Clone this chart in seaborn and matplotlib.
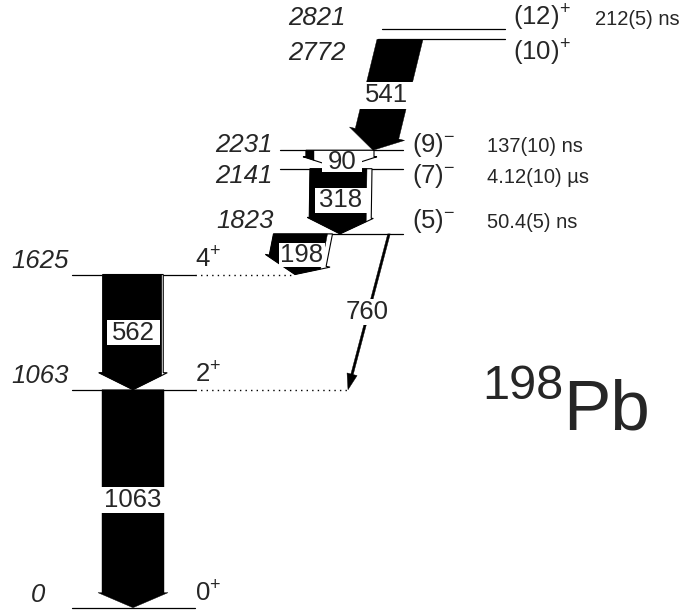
import matplotlib
matplotlib.use("Agg")
import matplotlib.pyplot as plt
from matplotlib.patches import Rectangle
import numpy as np
import pandas as pd
import seaborn as sns

# niveles (keV), espines y vidas medias
level_E = [0, 1063, 1625, 1823, 2141, 2231, 2772, 2821]
level_spin = ["0$^{+}$", "2$^{+}$", "4$^{+}$", "(5)$^{-}$", "(7)$^{-}$",
              "(9)$^{-}$", "(10)$^{+}$", "(12)$^{+}$"]
level_life = ["", "", "", "50.4(5) ns", "4.12(10) µs", "137(10) ns", "", "212(5) ns"]

# transiciones gamma
gamma_from = [1063, 1625, 1823, 1823, 2141, 2231, 2772]
gamma_to = [0, 1063, 1063, 1625, 1823, 2141, 2231]
gamma_label = ["1063", "562", "760", "198", "318", "90", "541"]

# ---- layout (px en x, keV en y) ----
K = 0.20504  # px por keV
lvl_x0 = [72, 72, 72, 273, 280, 280, 378, 382]
lvl_x1 = [195, 195, 195, 403, 403, 403, 505, 505]
dot_end = {1063: 350, 1625: 295}
lbl_base = [28, 1096, 1657, 1852, 2071, 2223, 2671, 2840]
lbl_xE = [45, 69, 69, 274, 273, 273, 346, 346]
lbl_xS = [195, 195, 195, 412, 412, 412, 513, 513]
lbl_xT = [0, 0, 0, 487, 487, 487, 0, 595]

arr_x0 = [133, 133, 389, 303, 341, 340, 400]
arr_x1 = [133, 133, 348, 295, 340, 340, 373]
arr_wb = [62, 59, 2.5, 54, 57, 8, 46]
arr_ww = [0, 1.5, 0, 5, 5, 60, 0]
arr_hl = [15, 17, 16, 14, 16, 12, 17]
arr_oh = [4, 4, 4, 4, 2, 3, 6]
arr_lx = [133, 133, 367, 302, 341, 342, 386]
arr_lE = [525, 1340, 1442, 1720, 1988, 2174, 2500]
box_w = [68, 53, 44, 46, 52, 40, 66]
box_h = [26, 25, 26, 24, 25, 21, 27]

sns.set_theme(style="white")
plt.rcParams["font.family"] = ["Liberation Sans", "DejaVu Sans"]
plt.rcParams["mathtext.fontset"] = "custom"
plt.rcParams["mathtext.rm"] = "Liberation Sans"
plt.rcParams["mathtext.it"] = "Liberation Sans:italic"


def arrow_poly(x0, e0, x1, e1, w, hl, oh):
    p0 = np.array([x0, e0 * K])
    p1 = np.array([x1, e1 * K])
    d = (p1 - p0) / np.linalg.norm(p1 - p0)
    n = np.array([-d[1], d[0]])
    wp = w * abs(d[1]) / 2
    h = p1 - d * hl
    pts = [p0 - [w / 2, 0], h - n * wp, h - n * (wp + oh), p1,
           h + n * (wp + oh), h + n * wp, p0 + [w / 2, 0]]
    return np.array(pts), p1, n, wp, abs(d[1])


def clip(poly, n, c):
    out = []
    for i in range(len(poly)):
        a, b = poly[i], poly[(i + 1) % len(poly)]
        fa, fb = a @ n - c, b @ n - c
        if fa <= 0:
            out.append(a)
        if fa * fb < 0:
            t = fa / (fa - fb)
            out.append(a + t * (b - a))
    return np.array(out)


fig = plt.figure(figsize=(6.88, 6.12), dpi=100)
ax = fig.add_axes([0, 0, 1, 1])

# niveles
rows = []
for i, e in enumerate(level_E):
    rows.append({"lvl": i, "x": lvl_x0[i], "E": e})
    rows.append({"lvl": i, "x": lvl_x1[i], "E": e})
df_lvl = pd.DataFrame(rows)
sns.lineplot(data=df_lvl, x="x", y="E", units="lvl", estimator=None,
             color="black", lw=0.9, ax=ax, legend=False, zorder=1)
for e, xe in dot_end.items():
    ax.hlines(e, 195, xe, colors="black", lw=1, linestyles=(0, (1, 3)), zorder=1)

# textos de niveles
for i, e in enumerate(level_E):
    ax.text(lbl_xE[i], lbl_base[i], str(e), ha="right", va="baseline",
            fontsize=18.5, fontstyle="italic")
    ax.text(lbl_xS[i], lbl_base[i], level_spin[i], ha="left", va="baseline",
            fontsize=18.5)
    if level_life[i]:
        ax.text(lbl_xT[i], lbl_base[i], level_life[i], ha="left", va="baseline",
                fontsize=14.5)

# flechas
for i in range(len(gamma_label)):
    w = arr_wb[i] + arr_ww[i]
    poly, p1, n, wp, s = arrow_poly(arr_x0[i], gamma_from[i], arr_x1[i],
                                   gamma_to[i], w, arr_hl[i], arr_oh[i])
    if arr_ww[i] > 0:
        ax.fill(poly[:, 0], poly[:, 1] / K, facecolor="white", edgecolor="black",
                lw=0.8, zorder=3)
        blk = clip(poly, n, p1 @ n - wp + arr_wb[i] * s)
    else:
        blk = poly
    ax.fill(blk[:, 0], blk[:, 1] / K, color="black", lw=0.3, zorder=3)
    ax.add_patch(Rectangle((arr_lx[i] - box_w[i] / 2, arr_lE[i] - box_h[i] / 2 / K),
                           box_w[i], box_h[i] / K, fc="white", ec="none", zorder=4))
    ax.text(arr_lx[i], arr_lE[i], gamma_label[i], ha="center", va="center",
            fontsize=18.5, zorder=5)

ax.text(482, 1018, "198", ha="left", va="baseline", fontsize=35)
ax.text(563, 867, "Pb", ha="left", va="baseline", fontsize=51)

ax.set_xlim(0, 688)
ax.set_ylim(-4.3 / K, 607.7 / K)
ax.axis("off")

fig.savefig("out.png", dpi=100)
